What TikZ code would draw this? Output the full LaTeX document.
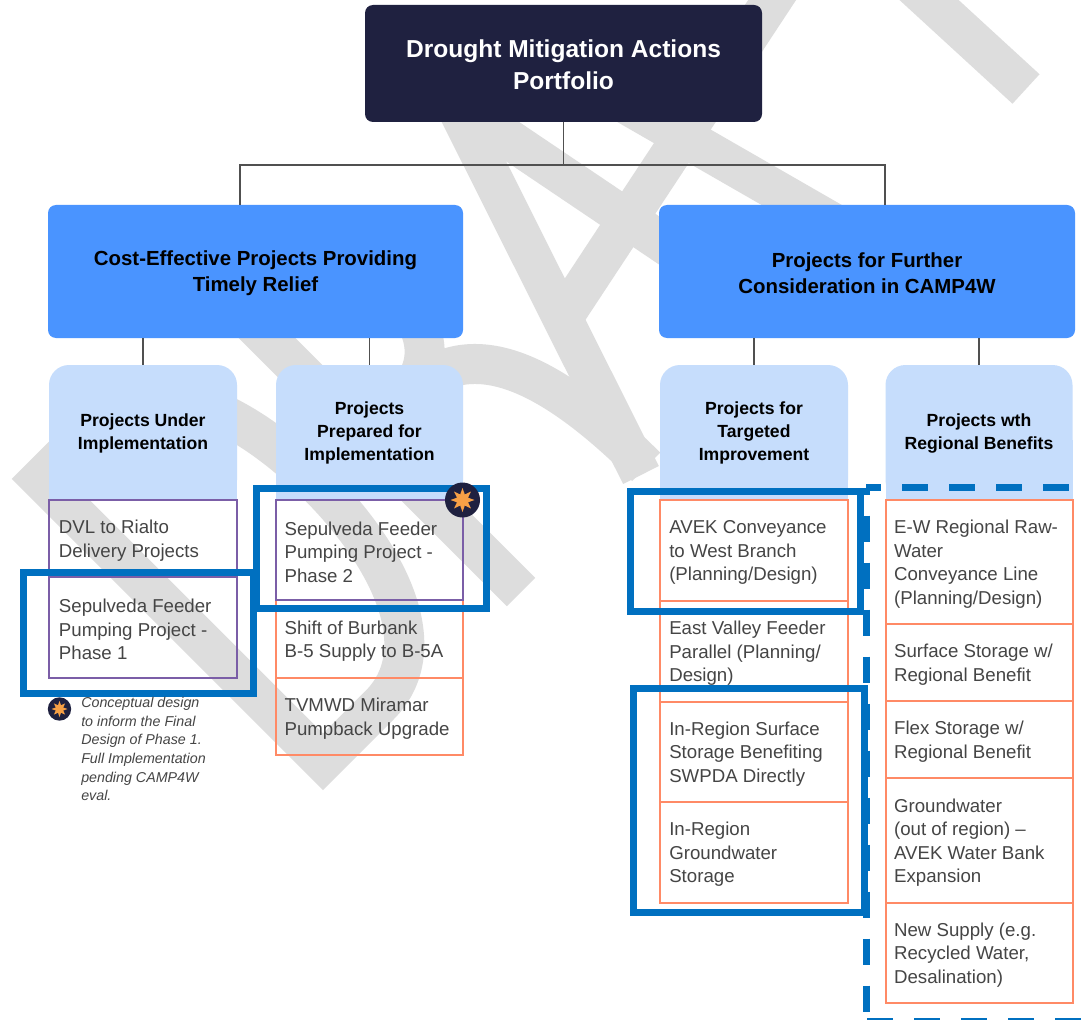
\documentclass[tikz,border=0pt]{standalone}
\usepackage{fontspec}
\setmainfont{Liberation Sans}
\usetikzlibrary{fit,shapes.geometric}
\definecolor{navy}{HTML}{1F2140}
\definecolor{bblue}{HTML}{4A94FF}
\definecolor{lblue}{HTML}{C6DDFC}
\definecolor{purp}{HTML}{7B5EA7}
\definecolor{orng}{HTML}{FF8A66}
\definecolor{hlblue}{HTML}{0070C0}
\definecolor{wmgray}{HTML}{DDDDDD}
\definecolor{txt}{HTML}{454545}
\definecolor{conncol}{HTML}{505050}
\definecolor{starorg}{HTML}{F7A046}
\begin{document}
\begin{tikzpicture}[x=0.75pt,y=-0.75pt,
  wmstroke/.style={draw=wmgray,line width=30pt},
  navybox/.style={fill=navy,rounded corners=6pt,inner sep=0pt},
  navytext/.style={inner sep=0pt,text=white,align=center,font=\fontsize{18.4}{24}\selectfont\bfseries},
  bigbox/.style={fill=bblue,rounded corners=6pt,inner sep=0pt},
  bigtext/.style={inner sep=0pt,text=black,align=center,font=\fontsize{15.3}{19.5}\selectfont\bfseries},
  hdrbox/.style={inner sep=0pt},
  hdrtext/.style={inner sep=0pt,text=black,align=center,font=\fontsize{13.2}{17.2}\selectfont\bfseries},
  hdrfill/.style={fill=lblue},
  itembox/.style={draw,line width=1.5pt,inner sep=0pt},
  purpbox/.style={itembox,draw=purp},
  orgbox/.style={itembox,draw=orng},
  itemtext/.style={anchor=west,inner sep=0pt,align=left,text=txt,font=\fontsize{14}{17.6}\selectfont},
  legtext/.style={anchor=north west,inner sep=0pt,align=left,text=txt,font=\fontsize{10.7}{14}\selectfont\itshape},
  conn/.style={draw=conncol,line width=1.1pt},
  hl/.style={draw=hlblue,line width=5.25pt},
  hldash/.style={hl,dash pattern=on 19.5pt off 15.75pt},
  badge/.style={circle,fill=navy,inner sep=0pt},
  starmark/.style={star,star points=8,star point ratio=2,fill=starorg,inner sep=0pt}
]
\useasboundingbox (0,0) rectangle (1089,1020);
\clip (0,0) rectangle (1089,1020);
\fill[white] (0,0) rectangle (1089,1020);
% ---------- watermark ----------
\begin{scope}[shift={(323,790)},rotate=45,yscale=-1]
 \draw[wmstroke,line join=miter] (20,20) -- (20,420) -- (100,420) .. controls (175,420) and (212,330) .. (212,220) .. controls (212,110) and (175,20) .. (100,20) -- cycle;
 \draw[wmstroke] (280,0) -- (280,420) -- (330,420) .. controls (385,420) and (405,385) .. (405,320) .. controls (405,255) and (385,220) .. (330,220) -- (280,220);
 \draw[wmstroke] (350,220) .. controls (420,214) and (457,150) .. (457,0);
\end{scope}
\draw[wmstroke] (438,70) -- (641,475);
\draw[wmstroke] (430,86) -- (700,268);
\draw[wmstroke] (568,310) -- (784,-18);
\draw[wmstroke] (600,89) -- (880,250);
\draw[wmstroke] (880,-45) -- (1026,89);
% ---------- top levels ----------
\node[navybox,fit={(365,5) (762,122)}] (top) {};
\node[navytext] (topt) at ([yshift=-1pt]top.center) {Drought Mitigation Actions\\Portfolio};
\node[bigbox,fit={(48,205) (463,338)}] (cl) {};
\node[bigtext] (clt) at ([yshift=-1pt]cl.center) {Cost-Effective Projects Providing\\Timely Relief};
\node[bigbox,fit={(659,205) (1075,338)}] (cr) {};
\node[bigtext] (crt) at ([yshift=-1pt]cr.center) {Projects for Further\\Consideration in CAMP4W};
% ---------- header fills ----------
\foreach \xa/\xb in {49/237,276/463,660/848,885.5/1072.5}{
  \fill[hdrfill,rounded corners=15pt] (\xa,365) rectangle (\xb,500);
  \fill[hdrfill] (\xa,440) rectangle (\xb,500);
}
\node[hdrbox,fit={(49,365) (237,500)}] (h1) {};
\node[hdrbox,fit={(276,365) (463,500)}] (h2) {};
\node[hdrbox,fit={(660,365) (848,500)}] (h3) {};
\node[hdrbox,fit={(885.5,365) (1072.5,500)}] (h4) {};
\node[hdrtext] (h1t) at ([yshift=-0.5pt]h1.center) {Projects Under\\Implementation};
\node[hdrtext] (h2t) at ([yshift=-0.5pt]h2.center) {Projects\\Prepared for\\Implementation};
\node[hdrtext] (h3t) at ([yshift=-0.5pt]h3.center) {Projects for\\Targeted\\Improvement};
\node[hdrtext] (h4t) at ([yshift=-0.5pt]h4.center) {Projects wth\\Regional Benefits};
% ---------- connectors ----------
\coordinate (jL) at (240,165);
\coordinate (jR) at (885,165);
\draw[conn] (top.south) |- (jL) -- (jL |- cl.north);
\draw[conn] (top.south) |- (jR) -- (jR |- cr.north);
\draw[conn] (cl.south -| h1.north) -- (h1.north);
\draw[conn] (cl.south -| h2.north) -- (h2.north);
\draw[conn] (cr.south -| h3.north) -- (h3.north);
\draw[conn] (cr.south -| h4.north) -- (h4.north);
% ---------- item boxes ----------
\node[orgbox,fit={(276,600) (463,678)}] (b2) {};
\node[orgbox,fit={(276,678) (463,755)}] (b3) {};
\node[purpbox,fit={(49,500) (237,577)}] (a1) {};
\node[purpbox,fit={(49,577) (237,678)}] (a2) {};
\node[purpbox,fit={(276,500) (463,600)}] (b1) {};
\node[orgbox,fit={(660,500) (848,601)}] (c1) {};
\node[orgbox,fit={(660,601) (848,702)}] (c2) {};
\node[orgbox,fit={(660,702) (848,802)}] (c3) {};
\node[orgbox,fit={(660,802) (848,903)}] (c4) {};
\node[orgbox,fit={(885.5,500) (1072.5,624)}] (d1) {};
\node[orgbox,fit={(885.5,624) (1072.5,701)}] (d2) {};
\node[orgbox,fit={(885.5,701) (1072.5,778)}] (d3) {};
\node[orgbox,fit={(885.5,778) (1072.5,903)}] (d4) {};
\node[orgbox,fit={(885.5,903) (1072.5,1003)}] (d5) {};
% ---------- item texts ----------
\node[itemtext] (a1t) at ([xshift=8pt,yshift=-1.5pt]a1.west) {DVL to Rialto\\Delivery Projects};
\node[itemtext] (a2t) at ([xshift=8pt,yshift=-1.5pt]a2.west) {Sepulveda Feeder\\Pumping Project -\\Phase 1};
\node[itemtext] (b1t) at ([xshift=7pt,yshift=-1.5pt]b1.west) {Sepulveda Feeder\\Pumping Project -\\Phase 2};
\node[itemtext] (b2t) at ([xshift=7pt,yshift=-1.5pt]b2.west) {Shift of Burbank\\B-5 Supply to B-5A};
\node[itemtext] (b3t) at ([xshift=7pt,yshift=-1.5pt]b3.west) {TVMWD Miramar\\Pumpback Upgrade};
\node[itemtext] (c1t) at ([xshift=7.5pt,yshift=-1.5pt]c1.west) {AVEK Conveyance\\to West Branch\\(Planning/Design)};
\node[itemtext] (c2t) at ([xshift=7.5pt,yshift=-1.5pt]c2.west) {East Valley Feeder\\Parallel (Planning/\\Design)};
\node[itemtext] (c3t) at ([xshift=7.5pt,yshift=-1.5pt]c3.west) {In-Region Surface\\Storage Benefiting\\SWPDA Directly};
\node[itemtext] (c4t) at ([xshift=7.5pt,yshift=-1.5pt]c4.west) {In-Region\\Groundwater\\Storage};
\node[itemtext] (d1t) at ([xshift=7pt,yshift=-1.5pt]d1.west) {E-W Regional Raw-\\Water\\Conveyance Line\\(Planning/Design)};
\node[itemtext] (d2t) at ([xshift=7pt,yshift=-1.5pt]d2.west) {Surface Storage w/\\Regional Benefit};
\node[itemtext] (d3t) at ([xshift=7pt,yshift=-1.5pt]d3.west) {Flex Storage w/\\Regional Benefit};
\node[itemtext] (d4t) at ([xshift=7pt,yshift=-1.5pt]d4.west) {Groundwater\\(out of region) --\\AVEK Water Bank\\Expansion};
\node[itemtext] (d5t) at ([xshift=7pt,yshift=-1.5pt]d5.west) {New Supply (e.g.\\Recycled Water,\\Desalination)};
% ---------- highlights ----------
\draw[hl] (23.5,572.5) rectangle (253.5,693);
\draw[hl] (256.5,488.5) rectangle (486.5,608.5);
\draw[hl] (630,491.5) rectangle (860,611.5);
\draw[hl] (633.5,688.5) rectangle (864,912.5);
\draw[hldash,dash phase=8.25pt] (866,487.5) -- (1100,487.5);
\draw[hldash,dash phase=14.25pt] (866,487.5) -- (866,1030);
\draw[hldash] (867,1021) -- (1100,1021);
% ---------- badge and legend ----------
\node[badge,minimum size=26.25pt] (bdg) at (462.5,500) {};
\node[starmark,minimum size=18pt] (bdgstar) at (bdg.center) {};
\node[badge,minimum size=17.5pt] (lg) at (59.5,709) {};
\node[starmark,minimum size=12pt] (lgstar) at (lg.center) {};
\node[legtext] (legt) at (81,697) {Conceptual design\\to inform the Final\\Design of Phase 1.\\Full Implementation\\pending CAMP4W\\eval.};
\end{tikzpicture}
\end{document}
